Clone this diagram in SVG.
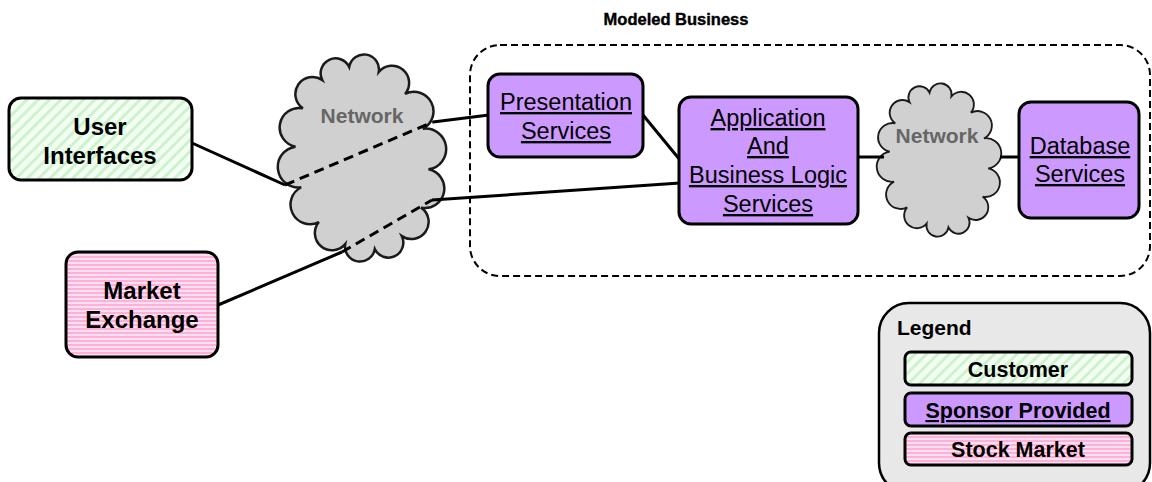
<svg xmlns="http://www.w3.org/2000/svg" width="1152" height="482" viewBox="0 0 1152 482">
<defs>
<pattern id="green" patternUnits="userSpaceOnUse" width="8" height="8" patternTransform="rotate(45)">
<rect width="8" height="8" fill="#f2fff2"/>
<rect width="3" height="8" fill="#cdf2cd"/>
</pattern>
<pattern id="pink" patternUnits="userSpaceOnUse" width="8" height="4">
<rect width="8" height="4" fill="#ffe0f0"/>
<rect width="8" height="2" fill="#ffb0d8"/>
</pattern>
<path id="cloud" d="M0,-92 A1,1 0 0 1 28.6,-82.9 A1,1 0 0 1 51.6,-57.4 A1,1 0 0 1 64.3,-20.5 A1,1 0 0 1 64.3,20.5 A1,1 0 0 1 51.6,57.4 A1,1 0 0 1 28.6,82.9 A1,1 0 0 1 0,92 A1,1 0 0 1 -28.6,82.9 A1,1 0 0 1 -51.6,57.4 A1,1 0 0 1 -64.3,20.5 A1,1 0 0 1 -64.3,-20.5 A1,1 0 0 1 -51.6,-57.4 A1,1 0 0 1 -28.6,-82.9 A1,1 0 0 1 0,-92 Z"/>
</defs>
<style>
.box{stroke:#000;stroke-width:3}
.cloud{fill:#d0d0d0;stroke:#1a1a1a;stroke-width:2.5;vector-effect:non-scaling-stroke}
.t{font-family:"Liberation Sans",Arial,sans-serif;text-anchor:middle;fill:#000}
.b{font-weight:bold}
.u{text-decoration:underline}
.net{font-family:"Liberation Sans",Arial,sans-serif;font-weight:bold;font-size:21px;fill:#666;text-anchor:middle}
.c{stroke:#000;stroke-width:3;fill:none}
.d{stroke-dasharray:10 6}
</style>

<g id="modeled-business">
<rect x="470" y="45" width="680" height="231" rx="30" fill="none" stroke="#000" stroke-width="2" stroke-dasharray="7 4"/>
<text class="t b" x="676" y="25" font-size="16.5" stroke="#000" stroke-width="0.4">Modeled Business</text>
</g>

<g id="network1">
<use href="#cloud" class="cloud" transform="translate(362,158) rotate(-8)"/>
<text class="net" x="362" y="123">Network</text>
</g>
<g id="network2">
<use href="#cloud" class="cloud" transform="translate(939,160) rotate(-8) scale(0.74)"/>
<text class="net" x="937" y="143">Network</text>
</g>

<g id="connectors">
<polyline class="c" points="192,143 285,185"/>
<polyline class="c d" points="285,185 433,122"/>
<polyline class="c" points="433,122 489,115"/>
<polyline class="c" points="218,305 342,252"/>
<polyline class="c d" points="342,252 432,200"/>
<polyline class="c" points="432,200 680,183"/>
<polyline class="c" points="643,115 680,160"/>
<polyline class="c" points="858,157 884,157"/>
<polyline class="c" points="1000,157 1020,157"/>
</g>

<g id="user-interfaces">
<rect class="box" x="9" y="98" width="183" height="82" rx="12" fill="url(#green)"/>
<text class="t b" x="100" y="135" font-size="24">User</text>
<text class="t b" x="100" y="164" font-size="24">Interfaces</text>
</g>

<g id="market-exchange">
<rect class="box" x="66" y="252" width="152" height="105" rx="12" fill="url(#pink)"/>
<text class="t b" x="142" y="299" font-size="24">Market</text>
<text class="t b" x="142" y="328" font-size="24">Exchange</text>
</g>

<g id="presentation-services">
<rect class="box" x="488" y="74" width="155" height="83" rx="12" fill="#cc99ff"/>
<text class="t u" x="566" y="110" font-size="23.5">Presentation</text>
<text class="t u" x="566" y="139" font-size="23.5">Services</text>
</g>

<g id="application-services">
<rect class="box" x="679" y="97" width="179" height="127" rx="12" fill="#cc99ff"/>
<text class="t u" x="768" y="126" font-size="23.5">Application</text>
<text class="t u" x="768" y="154" font-size="23.5">And</text>
<text class="t u" x="768" y="183" font-size="23.5">Business Logic</text>
<text class="t u" x="768" y="212" font-size="23.5">Services</text>
</g>

<g id="database-services">
<rect class="box" x="1019" y="102" width="120" height="116" rx="12" fill="#cc99ff"/>
<text class="t u" x="1080" y="154" font-size="23.5">Database</text>
<text class="t u" x="1080" y="182" font-size="23.5">Services</text>
</g>

<g id="legend">
<rect x="879" y="303" width="271" height="190" rx="30" fill="#e8e8e8" stroke="#000" stroke-width="2.5"/>
<text x="897" y="335" font-family="Liberation Sans, Arial, sans-serif" font-weight="bold" font-size="21">Legend</text>
<rect class="box" x="905" y="352" width="227" height="33" rx="6" fill="url(#green)"/>
<text class="t b" x="1018" y="377" font-size="21.5">Customer</text>
<rect class="box" x="905" y="393" width="227" height="33" rx="6" fill="#cc99ff"/>
<text class="t b u" x="1018" y="418" font-size="21.5">Sponsor Provided</text>
<rect class="box" x="905" y="433" width="227" height="32" rx="6" fill="url(#pink)"/>
<text class="t b" x="1018" y="457" font-size="21.5">Stock Market</text>
</g>
</svg>
